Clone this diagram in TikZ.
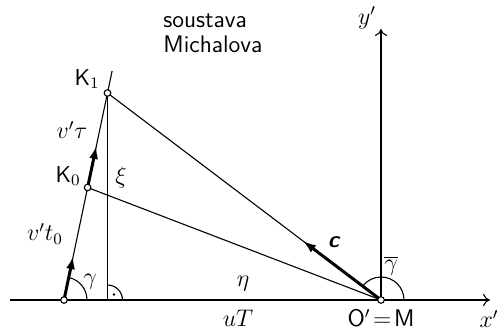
\documentclass[tikz,border=0pt]{standalone}
\usetikzlibrary{arrows.meta,calc}
\begin{document}
\begin{tikzpicture}[x=0.5pt,y=-0.5pt,
  every node/.style={font=\fontsize{11.5}{12.5}\selectfont\sffamily,inner sep=1pt},
  lbl/.style={font=\fontsize{12}{13}\selectfont},
  thinl/.style={line width=0.55pt},
  pt/.style={circle,draw,line width=0.55pt,fill=white,inner sep=0pt,minimum size=3.3pt},
  vec/.style={line width=1.5pt,-{Latex[length=6.5pt,width=4.5pt]}},
  axis/.style={line width=0.55pt,-{To[length=3.5pt,width=6pt]}}]
\useasboundingbox (0,0) rectangle (501,330);
% points
\coordinate (A) at (64,300);
\coordinate (K0) at (87.6,187.5);
\coordinate (K1) at (107.5,93);
\coordinate (E) at (112.1,71);
\coordinate (F) at (107.5,300);
\coordinate (O) at (381,300);
\coordinate (xs) at (10,300);
\coordinate (xe) at (490,300);
\coordinate (ye) at (381,29);
% axes
\draw[axis] (xs) -- (xe);
\draw[axis] (O) -- (ye);
% lines
\draw[thinl] (A) -- (E);
\draw[thinl] (K1) -- (F);
\draw[thinl] (K0) -- (O);
\draw[thinl] (K1) -- (O);
% angles
\draw[thinl] ($(A)+(23,0)$) arc[start angle=0,end angle=-78.1,radius=23];
\draw[thinl] ($(F)+(15,0)$) arc[start angle=0,end angle=-90,radius=15];
\fill ($(F)+(6.5,-5.5)$) circle[radius=1.3];
\draw[thinl] ($(O)+(23,0)$) arc[start angle=0,end angle=-142.9,radius=23];
% vectors
\draw[vec] (A) -- ($(A)!0.39!(K0)$);
\draw[vec] (K0) -- ($(K0)!0.44!(K1)$);
\draw[vec] (O) -- ($(O)!0.285!(K1)$);
% point markers
\node[pt] (nA) at (A) {};
\node[pt] (nK0) at (K0) {};
\node[pt] (nK1) at (K1) {};
\node[pt] (nO) at (O) {};
% labels
\node[anchor=west,align=left,font=\fontsize{12}{12.5}\selectfont\sffamily] (title) at (161,33) {soustava\\Michalova};
\node (lK1) at (87,79) {K$_1$};
\node (lK0) at (68,176) {K$_0$};
\node[lbl] (lvt) at (72,130) {$v'\tau$};
\node[lbl] (lvt0) at (45,234) {$v't_0$};
\node[lbl] (lxi) at (121,178) {$\xi$};
\node[lbl] (leta) at (243,284) {$\eta$};
\node[lbl] (lg) at (90,282) {$\gamma$};
\node[lbl] (lgb) at (391,266) {$\overline{\gamma}$};
\node (lc) at (334,242) {\textbf{\textit{c}}};
\node[lbl] (luT) at (238,318) {$uT$};
\node (lOM) at (381,318) {$\mathsf{O}'\!=\!\mathsf{M}$};
\node[lbl] (lx) at (489,319) {$x'$};
\node[lbl] (ly) at (367,18) {$y'$};
\end{tikzpicture}
\end{document}
